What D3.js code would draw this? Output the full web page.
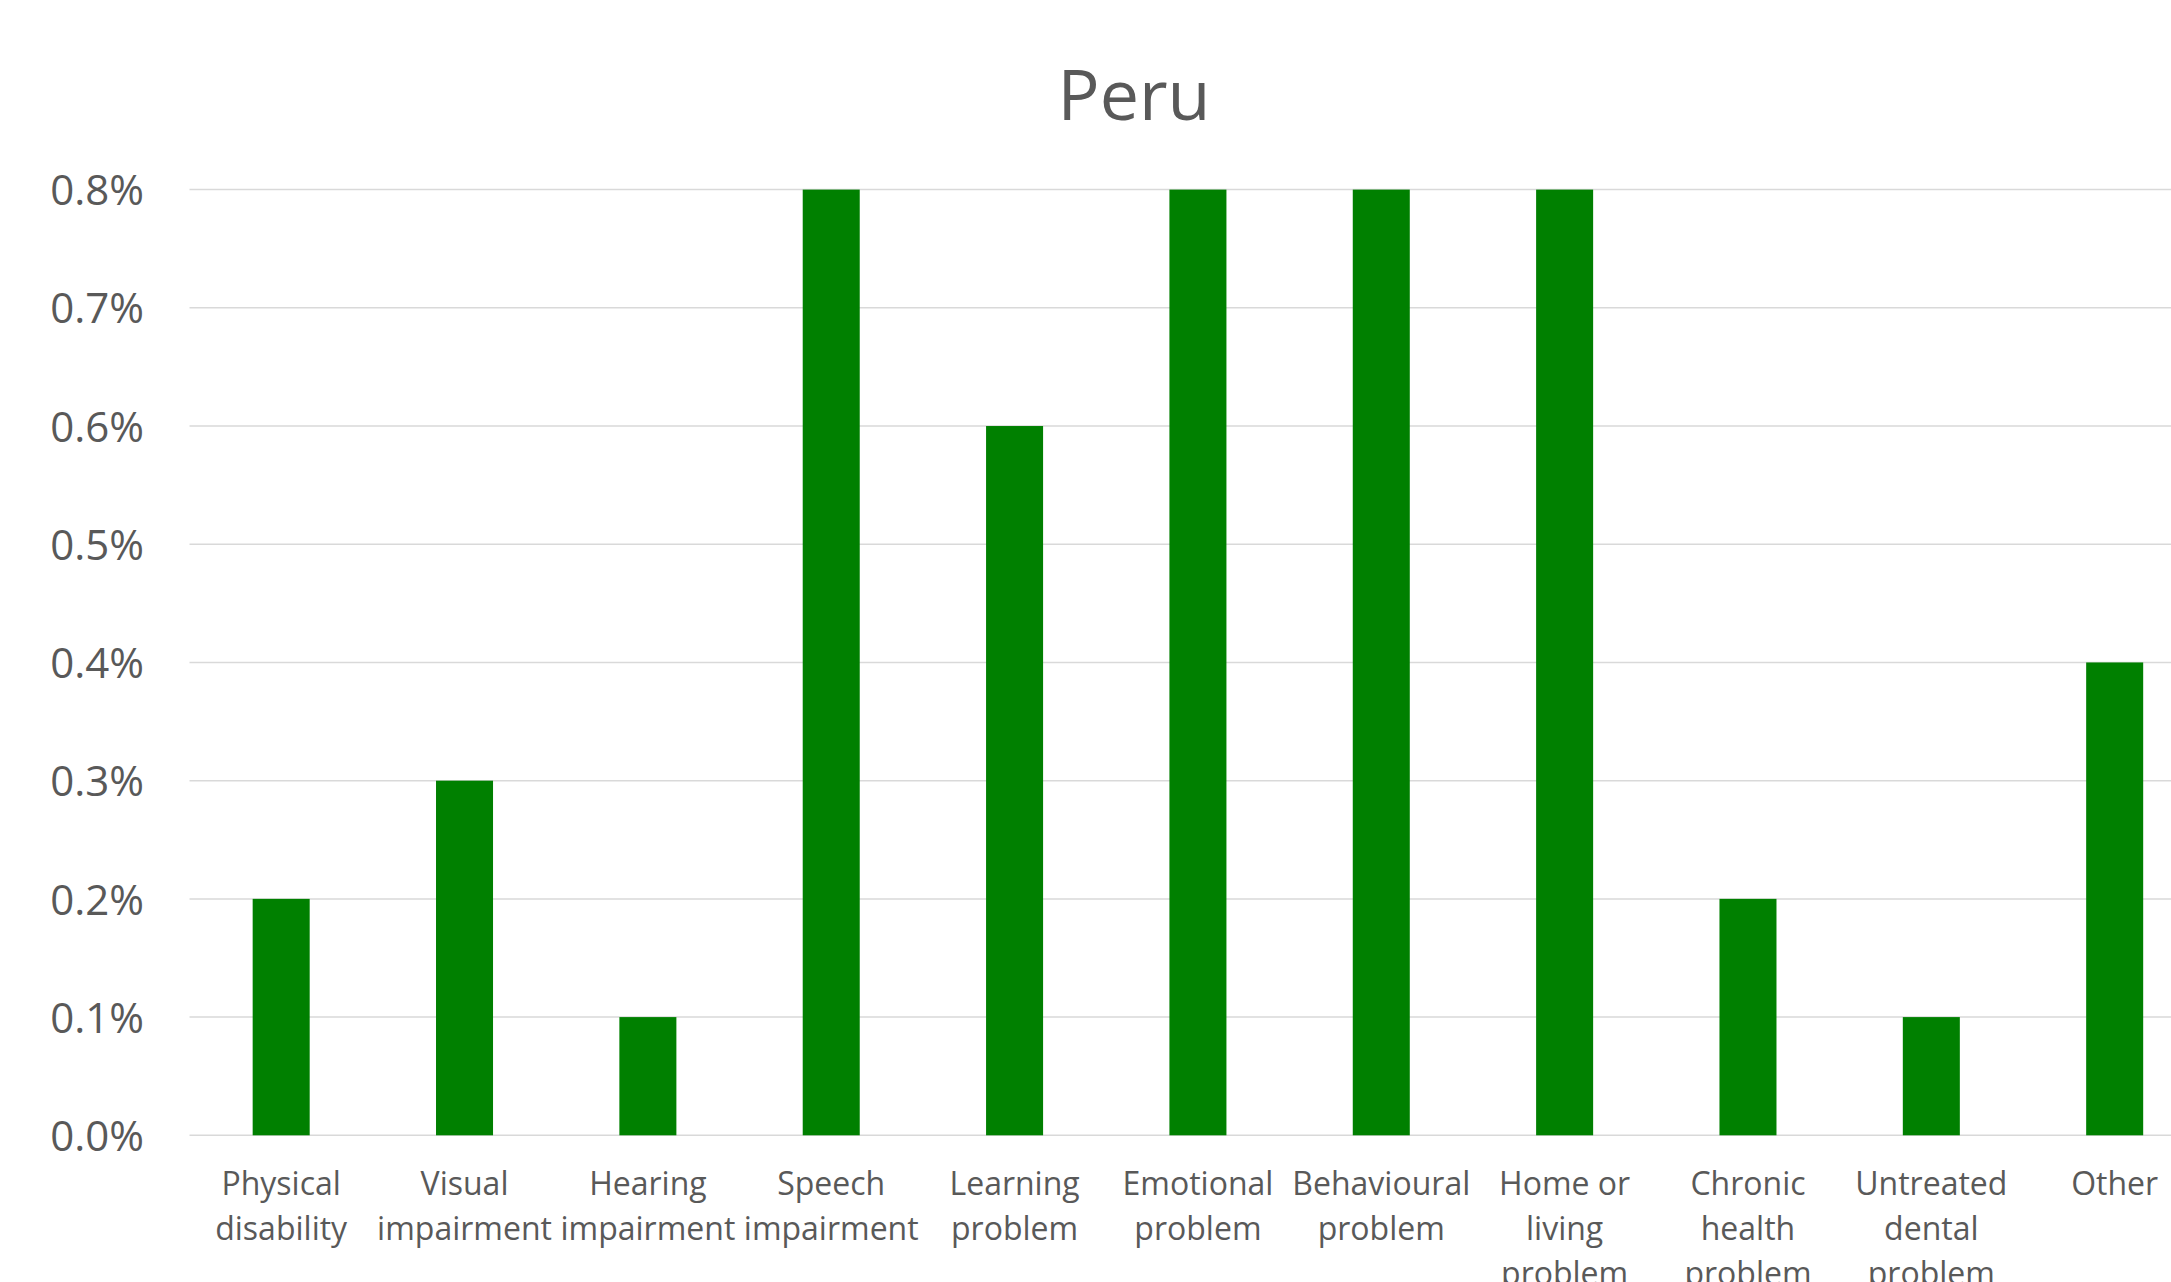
<!DOCTYPE html>
<html>
<head>
<meta charset="utf-8">
<script src="https://cdn.jsdelivr.net/npm/d3@7"></script>
<style>
  html, body { margin: 0; padding: 0; background: #fff; overflow: hidden; }
  svg { display: block; }
  text { font-family: "Open Sans", "Noto Sans", sans-serif; fill: #595959; }
</style>
</head>
<body>
<svg width="2171" height="1282"></svg>
<script>
// chart data
let title = "Peru";
let categories = [
  "Physical disability", "Visual impairment", "Hearing impairment", "Speech impairment",
  "Learning problem", "Emotional problem", "Behavioural problem", "Home or living problem",
  "Chronic health problem", "Untreated dental problem", "Other"
];
let values = [0.002, 0.003, 0.001, 0.008, 0.006, 0.008, 0.008, 0.008, 0.002, 0.001, 0.004];
let yTicks = [0, 0.001, 0.002, 0.003, 0.004, 0.005, 0.006, 0.007, 0.008];

let svg = d3.select('svg');

// plot area (the right edge runs past the picture, like the original)
let plotLeft = 189.5, plotTop = 189.6, plotBottom = 1135.3;
let step = 183.35;

let x = d3.scaleBand()
  .domain(categories)
  .range([plotLeft, plotLeft + step * categories.length])
  .paddingInner(0.689)
  .paddingOuter(0.3445);

let y = d3.scaleLinear()
  .domain([0, 0.008])
  .range([plotBottom, plotTop]);

// gridlines
svg.append('g')
  .selectAll('line')
  .data(yTicks)
  .enter()
  .append('line')
  .attr('x1', plotLeft)
  .attr('x2', 2171)
  .attr('y1', d => y(d))
  .attr('y2', d => y(d))
  .attr('stroke', '#d9d9d9')
  .attr('stroke-width', 1.5);

// y axis labels
let yAxis = d3.axisLeft(y)
  .tickValues(yTicks)
  .tickFormat(d3.format('.1%'))
  .tickSize(0)
  .tickPadding(0);

let yg = svg.append('g')
  .attr('transform', 'translate(144,0)')
  .call(yAxis);
yg.select('.domain').remove();
yg.selectAll('text')
  .attr('font-size', 42)
  .attr('fill', '#595959')
  .style('font-family', '"Open Sans", "Noto Sans", sans-serif')
  .attr('dy', '0.36em');

// bars
svg.append('g')
  .selectAll('rect')
  .data(values)
  .enter()
  .append('rect')
  .attr('x', (d, i) => x(categories[i]))
  .attr('width', x.bandwidth())
  .attr('y', d => y(d))
  .attr('height', d => y(0) - y(d))
  .attr('fill', '#008000');

// category labels, wrapped to the band width like Excel does
let labels = svg.append('g');
categories.forEach(cat => {
  let cx = x(cat) + x.bandwidth() / 2;
  let t = labels.append('text')
    .attr('text-anchor', 'middle')
    .attr('font-size', 32);
  let words = cat.split(' ');
  let lines = [];
  let line = [];
  let probe = t.append('tspan');
  words.forEach(w => {
    let tryLine = line.concat([w]).join(' ');
    probe.text(tryLine);
    if (line.length && probe.node().getComputedTextLength() > step - 4) {
      lines.push(line.join(' '));
      line = [w];
    } else {
      line.push(w);
    }
  });
  lines.push(line.join(' '));
  probe.remove();
  lines.forEach((l, i) => {
    t.append('tspan')
      .attr('x', cx)
      .attr('y', 1195 + i * 45)
      .text(l);
  });
});

// title
svg.append('text')
  .attr('x', 1134)
  .attr('y', 120)
  .attr('text-anchor', 'middle')
  .attr('font-size', 70)
  .text(title);
</script>
</body>
</html>
